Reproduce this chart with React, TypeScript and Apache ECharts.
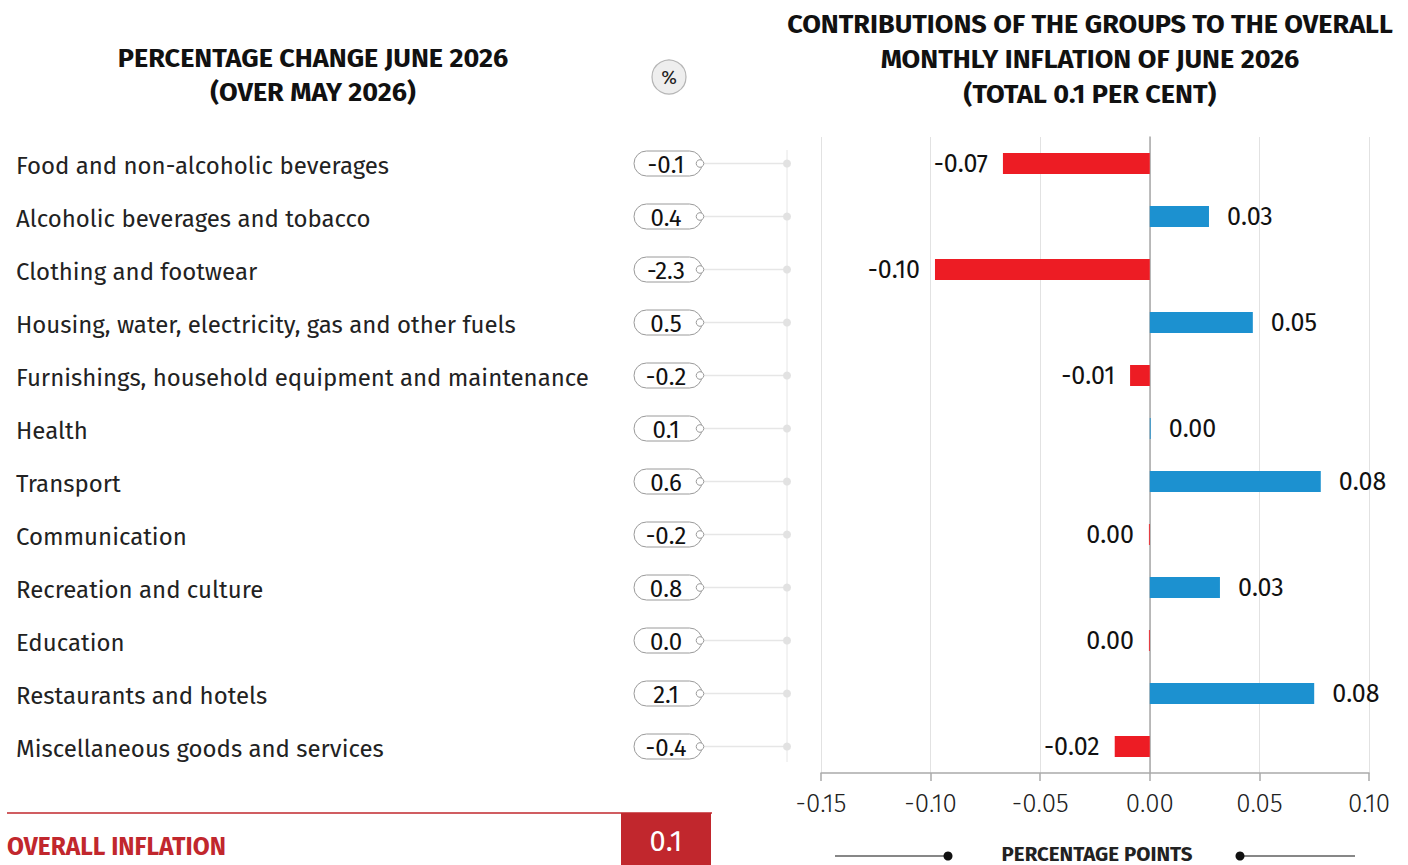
import React, { useEffect, useRef } from "react";
import * as echarts from "echarts";

const categories = [
  "Food and non-alcoholic beverages",
  "Alcoholic beverages and tobacco",
  "Clothing and footwear",
  "Housing, water, electricity, gas and other fuels",
  "Furnishings, household equipment and maintenance",
  "Health",
  "Transport",
  "Communication",
  "Recreation and culture",
  "Education",
  "Restaurants and hotels",
  "Miscellaneous goods and services",
];
const percentChange = [-0.1, 0.4, -2.3, 0.5, -0.2, 0.1, 0.6, -0.2, 0.8, 0.0, 2.1, -0.4];
const contributions = [-0.067, 0.027, -0.098, 0.047, -0.009, 0.0004, 0.078, -0.0004, 0.032, -0.0004, 0.075, -0.016];
const axisMin = -0.15;
const axisMax = 0.1;
const axisStep = 0.05;
const overallInflation = 0.1;

const leftTitle = ["PERCENTAGE CHANGE JUNE 2026", "(OVER MAY 2026)"];
const rightTitle = [
  "CONTRIBUTIONS OF THE GROUPS TO THE OVERALL",
  "MONTHLY INFLATION OF JUNE 2026",
  "(TOTAL 0.1 PER CENT)",
];

const FONT = "'Fira Sans', 'Noto Sans', 'Open Sans', sans-serif";
const RED = "#ed1c24";
const BLUE = "#1c91d0";
const DARKRED = "#c1272d";

function fmt2(v: number) {
  return (Math.round(v * 100) / 100).toFixed(2);
}

export default function App() {
  const ref = useRef<HTMLDivElement>(null);
  useEffect(() => {
    if (!ref.current) return;
    const chart = echarts.init(ref.current, undefined, { renderer: "svg" });

    const titleText = (t: string, x: number, y: number, size: number, sx: number) => ({
      type: "text",
      x,
      y,
      scaleX: sx,
      style: {
        text: t,
        fontFamily: FONT,
        fontWeight: "bold",
        fontSize: size,
        fill: "#111",
        align: "center",
        verticalAlign: "middle",
      },
    });

    const graphics: any[] = [];
    leftTitle.forEach((t, i) => graphics.push(titleText(t, 313, 58 + i * 34, 26, 1.04)));
    rightTitle.forEach((t, i) => graphics.push(titleText(t, 1090, 24 + i * 35, 26, 1.04)));
    graphics.push(
      { type: "circle", shape: { cx: 669, cy: 77, r: 17 }, style: { fill: "#eeeeee", stroke: "#b5b5b5", lineWidth: 1.2 } },
      { type: "text", x: 669, y: 77, style: { text: "%", fontFamily: FONT, fontSize: 19, fill: "#222", align: "center", verticalAlign: "middle" } },
      { type: "line", shape: { x1: 787, y1: 150, x2: 787, y2: 762 }, style: { stroke: "#e6e6e6", lineWidth: 1 } },
      { type: "line", shape: { x1: 7, y1: 813, x2: 712, y2: 813 }, style: { stroke: DARKRED, lineWidth: 1.5 } },
      { type: "text", x: 7, y: 846, style: { text: "OVERALL INFLATION", fontFamily: FONT, fontWeight: "bold", fontSize: 24.5, fill: DARKRED, align: "left", verticalAlign: "middle" } },
      { type: "rect", shape: { x: 621, y: 813, width: 90, height: 52 }, style: { fill: DARKRED } },
      { type: "text", x: 666, y: 841, style: { text: overallInflation.toFixed(1), fontFamily: FONT, fontSize: 29, fill: "#fff", align: "center", verticalAlign: "middle" } },
      { type: "line", shape: { x1: 835, y1: 856, x2: 946, y2: 856 }, style: { stroke: "#111", lineWidth: 1.2 } },
      { type: "circle", shape: { cx: 948, cy: 856, r: 4.5 }, style: { fill: "#111" } },
      { type: "line", shape: { x1: 1242, y1: 856, x2: 1355, y2: 856 }, style: { stroke: "#111", lineWidth: 1.2 } },
      { type: "circle", shape: { cx: 1240, cy: 856, r: 4.5 }, style: { fill: "#111" } },
      { type: "text", x: 1097, y: 854, style: { text: "PERCENTAGE POINTS", fontFamily: FONT, fontWeight: "bold", fontSize: 20.5, fill: "#222", align: "center", verticalAlign: "middle" } }
    );

    const option: any = {
      animation: false,
      grid: [
        { left: 821, width: 548, top: 137, height: 636 },
        { left: 0, width: 787, top: 137, height: 636 },
      ],
      xAxis: [
        {
          gridIndex: 0,
          type: "value",
          min: axisMin,
          max: axisMax,
          interval: axisStep,
          axisLine: { show: true, lineStyle: { color: "#aaaaaa", width: 1.5 } },
          axisTick: { show: true, length: 8, lineStyle: { color: "#aaaaaa", width: 1.5 } },
          splitLine: { show: true, lineStyle: { color: "#e2e2e2", width: 1 } },
          axisLabel: {
            formatter: (v: number) => fmt2(v),
            fontFamily: FONT,
            fontWeight: 300,
            fontSize: 26,
            color: "#222",
            margin: 17,
          },
        },
        { gridIndex: 1, type: "value", min: 0, max: 787, show: false },
      ],
      yAxis: [
        {
          gridIndex: 0,
          type: "category",
          inverse: true,
          data: categories,
          axisLine: { show: true, onZero: true, lineStyle: { color: "#a8a8a8", width: 1.5 } },
          axisTick: { show: false },
          axisLabel: { show: false },
          splitLine: { show: false },
        },
        { gridIndex: 1, type: "category", inverse: true, data: categories, show: false },
      ],
      series: [
        {
          type: "bar",
          xAxisIndex: 0,
          yAxisIndex: 0,
          barWidth: 21,
          data: contributions.map((v) => ({
            value: v,
            itemStyle: { color: v < 0 ? RED : BLUE },
            label: { position: v < 0 ? "left" : "right", distance: v < 0 ? 15 : 18 },
          })),
          label: {
            show: true,
            distance: 15,
            formatter: (p: any) => fmt2(p.value),
            fontFamily: FONT,
            fontSize: 25,
            color: "#111",
          },
        },
        {
          type: "custom",
          xAxisIndex: 1,
          yAxisIndex: 1,
          data: percentChange.map((v, i) => [0, i, v]),
          encode: { x: 0, y: 1 },
          renderItem: (params: any, api: any) => {
            const i = api.value(1);
            const v = api.value(2);
            const y = api.coord([0, i])[1];
            return {
              type: "group",
              children: [
                {
                  type: "text",
                  x: 16,
                  y: y + 2,
                  style: { text: categories[i], fontFamily: FONT, fontSize: 24, fill: "#222", align: "left", verticalAlign: "middle" },
                },
                { type: "line", shape: { x1: 704, y1: y, x2: 787, y2: y }, style: { stroke: "#e6e6e6", lineWidth: 1.5 } },
                { type: "circle", shape: { cx: 787, cy: y, r: 4 }, style: { fill: "#e2e2e2" } },
                { type: "rect", shape: { x: 634, y: y - 12.5, width: 68, height: 25, r: 12.5 }, style: { fill: "#fff", stroke: "#9a9a9a", lineWidth: 1 } },
                { type: "circle", shape: { cx: 700, cy: y, r: 3.8 }, style: { fill: "#fff", stroke: "#9a9a9a", lineWidth: 1 } },
                {
                  type: "text",
                  x: 666,
                  y: y + 1,
                  style: { text: v.toFixed(1), fontFamily: FONT, fontSize: 24, fill: "#111", align: "center", verticalAlign: "middle" },
                },
              ],
            };
          },
        },
      ],
      graphic: graphics,
    };
    chart.setOption(option);
    return () => chart.dispose();
  }, []);
  return <div ref={ref} style={{ position: "fixed", left: 0, top: 0, width: 1408, height: 865, background: "#fff" }} />;
}
